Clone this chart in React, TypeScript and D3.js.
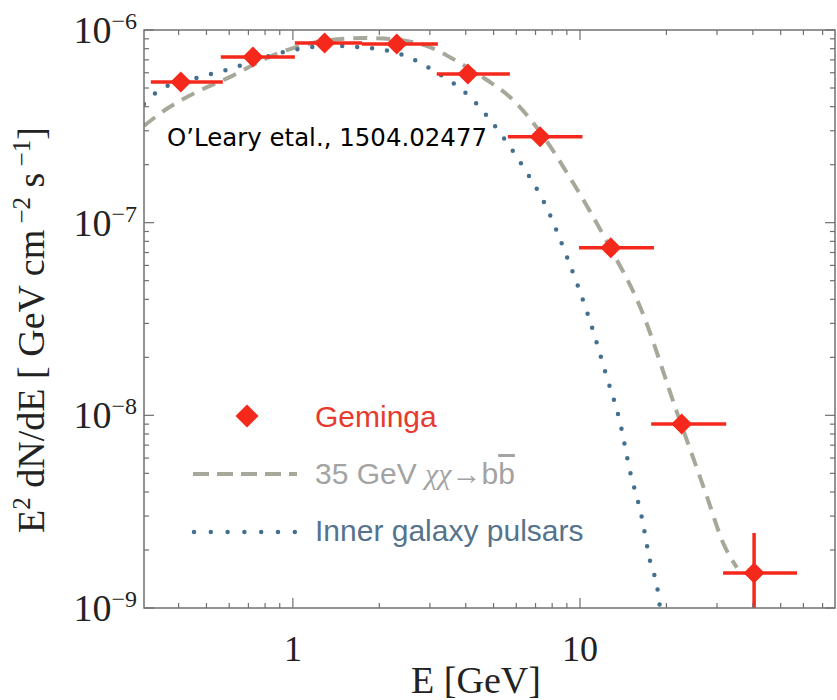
import React from 'react'
import * as d3 from 'd3'

// Geminga spectrum points (E in GeV, E^2 dN/dE in GeV cm^-2 s^-1)
const gemE = [0.407, 0.726, 1.29, 2.30, 4.07, 7.26, 12.8, 22.6, 40.4]
const gemLo = [0.320, 0.561, 1.016, 1.74, 3.17, 5.61, 9.92, 17.7, 31.5]
const gemHi = [0.570, 1.016, 1.74, 3.20, 5.70, 10.2, 18.1, 32.3, 57.0]
const gemF = [5.37e-7, 7.24e-7, 8.56e-7, 8.46e-7, 5.91e-7, 2.79e-7, 7.40e-8, 9.02e-9, 1.52e-9]
// only the last point has a visible vertical error bar
const gemFLo = [null, null, null, null, null, null, null, null, 5e-10]
const gemFHi = [null, null, null, null, null, null, null, null, 2.45e-9]

// 35 GeV chi chi -> b bbar
const dmE = [0.303, 0.364, 0.474, 0.618, 0.786, 1.00, 1.35, 1.78, 2.36, 3.00, 3.82, 4.74, 5.70, 7.26, 9.46, 12.7, 16.2, 21.8, 27.7, 31.5, 35.2]
const dmF = [3.18e-7, 3.90e-7, 4.85e-7, 5.80e-7, 6.99e-7, 8.06e-7, 8.87e-7, 9.09e-7, 8.87e-7, 8.16e-7, 6.74e-7, 5.50e-7, 4.49e-7, 2.96e-7, 1.61e-7, 7.48e-8, 3.65e-8, 1.03e-8, 3.77e-9, 2.18e-9, 1.62e-9]

// inner galaxy pulsars
const psrE = [0.303, 0.344, 0.474, 0.618, 0.786, 1.00, 1.38, 1.85, 2.42, 3.07, 4.14, 5.27, 6.54, 7.43, 9.01, 10.8, 12.4, 13.8, 14.9, 16.4, 17.5, 18.7, 19.1]
const psrF = [4.13e-7, 4.89e-7, 5.70e-7, 6.35e-7, 7.16e-7, 7.87e-7, 8.26e-7, 8.06e-7, 7.42e-7, 6.20e-7, 4.49e-7, 2.92e-7, 1.81e-7, 1.31e-7, 6.64e-8, 3.13e-8, 1.58e-8, 9.14e-9, 5.21e-9, 2.97e-9, 1.78e-9, 1.20e-9, 9.3e-10]

const xTickLabels = [1, 10]
const yTickExps = [-6, -7, -8, -9]

const W = 837
const H = 700
const L = 144, R = 835, T = 30, B = 608
const RED = '#f5281c'
const GRAY = '#a8a89a'
const BLUE = '#44708f'
const FRAME = '#707070'
const SERIF = '"Liberation Serif", "Times New Roman", serif'
const SANS = '"Liberation Sans", Arial, Helvetica, sans-serif'

export default function App () {
  const x = d3.scaleLog().domain([0.303, 77.3]).range([L, R])
  const y = d3.scaleLog().domain([1e-9, 1e-6]).range([B, T])

  const line = d3.line<[number, number]>()
    .x(d => x(d[0]))
    .y(d => y(d[1]))
    .curve(d3.curveMonotoneX)

  const dmPath = line(dmE.map((e, i) => [e, dmF[i]] as [number, number])) || ''
  const psrPath = line(psrE.map((e, i) => [e, psrF[i]] as [number, number])) || ''

  // ticks
  const xMinor: number[] = []
  const xMajor: number[] = []
  for (let p = -1; p <= 1; p++) {
    for (let m = 1; m < 10; m++) {
      const v = m * Math.pow(10, p)
      if (v < 0.303 || v > 77.3) continue
      if (m === 1) xMajor.push(v); else xMinor.push(v)
    }
  }
  const yMinor: number[] = []
  const yMajor: number[] = []
  for (let p = -9; p <= -6; p++) {
    for (let m = 1; m < 10; m++) {
      const v = m * Math.pow(10, p)
      if (v > 1.0001e-6) continue
      if (m === 1) yMajor.push(v); else yMinor.push(v)
    }
  }

  const diamond = (cx: number, cy: number, r: number) =>
    `M${cx},${cy - r}L${cx + r},${cy}L${cx},${cy + r}L${cx - r},${cy}Z`

  return (
    <svg width={W} height={H} style={{ position: 'absolute', left: 0, top: 0, background: '#fff' }}>
      <defs>
        <clipPath id='plot'>
          <rect x={L} y={T} width={R - L} height={B - T} />
        </clipPath>
      </defs>

      {/* curves */}
      <g clipPath='url(#plot)'>
        <path d={dmPath} fill='none' stroke={GRAY} strokeWidth={4} strokeDasharray='14 9' />
        <path d={psrPath} fill='none' stroke={BLUE} strokeWidth={4.5} strokeDasharray='0 15' strokeLinecap='round' />
      </g>

      {/* Geminga points */}
      <g clipPath='url(#plot)'>
        {gemE.map((e, i) => (
          <g key={i}>
            <line x1={x(gemLo[i])} x2={x(gemHi[i])} y1={y(gemF[i])} y2={y(gemF[i])} stroke={RED} strokeWidth={3.5} />
            {gemFLo[i] != null && (
              <line x1={x(e)} x2={x(e)} y1={y(gemFLo[i] as number)} y2={y(gemFHi[i] as number)} stroke={RED} strokeWidth={3.5} />
            )}
            <path d={diamond(x(e), y(gemF[i]), 10.5)} fill={RED} />
          </g>
        ))}
      </g>

      {/* frame and ticks */}
      <rect x={L} y={T} width={R - L} height={B - T} fill='none' stroke={FRAME} strokeWidth={1.5} />
      <g stroke={FRAME} strokeWidth={1.2}>
        {xMajor.map(v => (
          <g key={'xM' + v}>
            <line x1={x(v)} x2={x(v)} y1={B} y2={B - 10} />
            <line x1={x(v)} x2={x(v)} y1={T} y2={T + 10} />
          </g>
        ))}
        {xMinor.map(v => (
          <g key={'xm' + v}>
            <line x1={x(v)} x2={x(v)} y1={B} y2={B - 5} />
            <line x1={x(v)} x2={x(v)} y1={T} y2={T + 5} />
          </g>
        ))}
        {yMajor.map(v => (
          <g key={'yM' + v}>
            <line x1={L} x2={L + 10} y1={y(v)} y2={y(v)} />
            <line x1={R} x2={R - 10} y1={y(v)} y2={y(v)} />
          </g>
        ))}
        {yMinor.map(v => (
          <g key={'ym' + v}>
            <line x1={L} x2={L + 5} y1={y(v)} y2={y(v)} />
            <line x1={R} x2={R - 5} y1={y(v)} y2={y(v)} />
          </g>
        ))}
      </g>

      {/* tick labels */}
      <g fontFamily={SERIF} fill='#222'>
        {xTickLabels.map(v => (
          <text key={'xl' + v} x={x(v)} y={661} fontSize={36} textAnchor='middle'>{v}</text>
        ))}
        {yTickExps.map(p => (
          <text key={'yl' + p} x={137} y={y(Math.pow(10, p)) + 13} fontSize={38} textAnchor='end'>
            10<tspan fontSize={24} dy={-14}>{'\u2212' + -p}</tspan>
          </text>
        ))}
      </g>

      {/* axis titles */}
      <text x={476} y={693} fontFamily={SERIF} fontSize={38} textAnchor='middle' fill='#222'>E [GeV]</text>
      <text transform='translate(44,330) rotate(-90)' fontFamily={SERIF} fontSize={38} textAnchor='middle' fill='#222'>
        E<tspan fontSize={25} dy={-14}>2</tspan>
        <tspan dy={14}>{' dN/dE  [ GeV cm'}</tspan>
        <tspan fontSize={25} dy={-14}>{' \u22122'}</tspan>
        <tspan dy={14}>{' s'}</tspan>
        <tspan fontSize={25} dy={-14}>{' \u22121'}</tspan>
        <tspan dy={14}>]</tspan>
      </text>

      {/* annotation */}
      <text x={167} y={146} fontFamily='"Comic Sans MS", "DejaVu Sans", sans-serif' fontSize={25} fill='#000'
        textLength={320} lengthAdjust='spacingAndGlyphs'>
        O’Leary etal., 1504.02477
      </text>

      {/* legend */}
      <path d={diamond(247, 416, 11.5)} fill={RED} />
      <text x={315} y={427} fontFamily={SANS} fontSize={30} fill='#e8392e'>Geminga</text>
      <line x1={193} x2={297} y1={474} y2={474} stroke={GRAY} strokeWidth={4} strokeDasharray='16 8' />
      <text x={315} y={484} fontFamily={SANS} fontSize={30} fill='#a3a3a3'>
        35 GeV <tspan fontFamily={SERIF} fontStyle='italic'>χχ</tspan>→b<tspan textDecoration='overline' style={{ textDecoration: 'overline' }}>b</tspan>
      </text>
      <line x1={194} x2={296} y1={532} y2={532} stroke={BLUE} strokeWidth={4.5} strokeDasharray='0 16.8' strokeLinecap='round' />
      <text x={315} y={541} fontFamily={SANS} fontSize={30} fill='#56738c'>Inner galaxy pulsars</text>
    </svg>
  )
}
